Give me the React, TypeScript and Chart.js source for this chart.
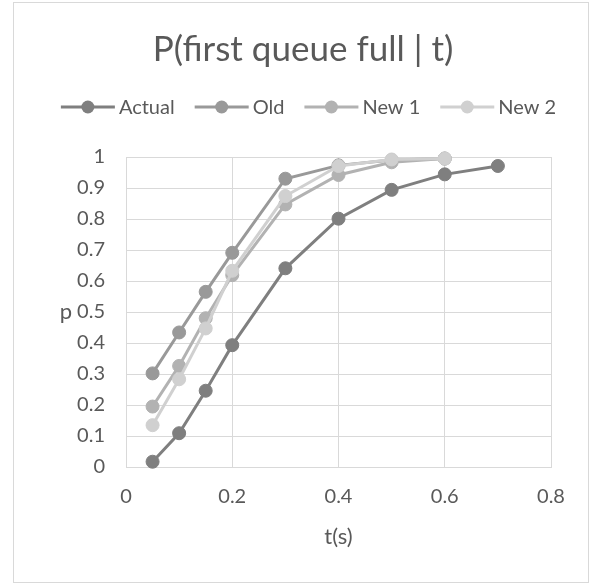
import React, { useEffect, useRef } from 'react';
import { Chart, registerables } from 'chart.js';

Chart.register(...registerables);

const TITLE = 'P(first queue full | t)';
const X_TITLE = 't(s)';
const Y_TITLE = 'p';

const SERIES_NAMES = ['Actual', 'Old', 'New 1', 'New 2'];
const SERIES_COLORS = ['#7f7f7f', '#999999', '#b2b2b2', '#d0d0d0'];

const T_ACTUAL = [0.05, 0.1, 0.15, 0.2, 0.3, 0.4, 0.5, 0.6, 0.7];
const P_ACTUAL = [0.017, 0.109, 0.246, 0.393, 0.641, 0.801, 0.894, 0.944, 0.971];

const T_MODEL = [0.05, 0.1, 0.15, 0.2, 0.3, 0.4, 0.5, 0.6];
const P_OLD = [0.302, 0.434, 0.565, 0.691, 0.93, 0.973, 0.99, 0.995];
const P_NEW1 = [0.195, 0.326, 0.48, 0.619, 0.847, 0.942, 0.983, 0.995];
const P_NEW2 = [0.135, 0.283, 0.447, 0.633, 0.874, 0.971, 0.992, 0.995];

const X_TICKS = [0, 0.2, 0.4, 0.6, 0.8];
const Y_TICKS = [0, 0.1, 0.2, 0.3, 0.4, 0.5, 0.6, 0.7, 0.8, 0.9, 1];

const FONT = 'Lato, "Noto Sans", sans-serif';
const TEXT_COLOR = '#595959';
const GRID_COLOR = '#d9d9d9';

const toPoints = (xs: number[], ys: number[]) => xs.map((x, i) => ({ x, y: ys[i] }));

const decorPlugin = {
  id: 'decor',
  beforeDraw(chart: any) {
    const ctx = chart.ctx;
    ctx.save();
    ctx.fillStyle = '#ffffff';
    ctx.fillRect(0, 0, chart.width, chart.height);
    ctx.strokeStyle = GRID_COLOR;
    ctx.lineWidth = 1;
    ctx.strokeRect(13.5, 2.5, 575, 580);
    ctx.restore();
  },
  afterDraw(chart: any) {
    const ctx = chart.ctx;
    const a = chart.chartArea;
    ctx.save();
    ctx.fillStyle = TEXT_COLOR;
    ctx.textBaseline = 'middle';
    ctx.textAlign = 'center';
    ctx.font = `35px ${FONT}`;
    ctx.fillText(TITLE, 303, 50);

    // legend
    ctx.font = `20px ${FONT}`;
    const ds = chart.data.datasets;
    const lineLen = 54;
    const gapText = 4;
    const gapItem = 20;
    const widths = ds.map((d: any) => ctx.measureText(d.label).width);
    const total = widths.reduce((s: number, w: number) => s + lineLen + gapText + w, 0) + gapItem * (ds.length - 1);
    let x = 308.5 - total / 2;
    const ly = 107;
    ds.forEach((d: any, i: number) => {
      ctx.strokeStyle = d.borderColor;
      ctx.lineWidth = 3;
      ctx.beginPath();
      ctx.moveTo(x, ly);
      ctx.lineTo(x + lineLen, ly);
      ctx.stroke();
      ctx.fillStyle = d.borderColor;
      ctx.beginPath();
      ctx.arc(x + lineLen / 2, ly, 6.5, 0, Math.PI * 2);
      ctx.fill();
      ctx.fillStyle = TEXT_COLOR;
      ctx.textAlign = 'left';
      ctx.fillText(d.label, x + lineLen + gapText, ly + 1);
      x += lineLen + gapText + widths[i] + gapItem;
    });

    // axis titles
    ctx.font = `22px ${FONT}`;
    ctx.textAlign = 'center';
    ctx.fillText(X_TITLE, (a.left + a.right) / 2, 537);
    ctx.fillText(Y_TITLE, 66, (a.top + a.bottom) / 2);
    ctx.restore();
  },
};

export default function App() {
  const ref = useRef<HTMLCanvasElement | null>(null);

  useEffect(() => {
    if (!ref.current) return;
    const seriesData = [
      toPoints(T_ACTUAL, P_ACTUAL),
      toPoints(T_MODEL, P_OLD),
      toPoints(T_MODEL, P_NEW1),
      toPoints(T_MODEL, P_NEW2),
    ];
    const chart = new Chart(ref.current, {
      type: 'line',
      data: {
        datasets: SERIES_NAMES.map((name, i) => ({
          label: name,
          data: seriesData[i],
          borderColor: SERIES_COLORS[i],
          backgroundColor: SERIES_COLORS[i],
          pointBackgroundColor: SERIES_COLORS[i],
          pointBorderColor: SERIES_COLORS[i],
          borderWidth: 3,
          pointRadius: 6.5,
          pointBorderWidth: 1,
          tension: 0,
          clip: false as any,
          order: SERIES_NAMES.length - i,
        })),
      },
      options: {
        responsive: false,
        animation: false,
        devicePixelRatio: 1,
        layout: { padding: { top: 157, left: 66, right: 47, bottom: 67 } },
        plugins: {
          legend: { display: false },
          title: { display: false },
          tooltip: { enabled: false },
        },
        scales: {
          x: {
            type: 'linear',
            min: 0,
            max: 0.8,
            afterBuildTicks: (s: any) => {
              s.ticks = X_TICKS.map((v) => ({ value: v }));
            },
            afterFit: (s: any) => {
              s.height = 50;
            },
            grid: { color: GRID_COLOR, drawTicks: false, lineWidth: 1 },
            border: { color: GRID_COLOR, width: 1 },
            ticks: {
              color: TEXT_COLOR,
              font: { family: FONT, size: 20 },
              padding: 18,
              maxRotation: 0,
              callback: (v: any) => String(v),
            },
          },
          y: {
            type: 'linear',
            min: 0,
            max: 1,
            afterBuildTicks: (s: any) => {
              s.ticks = Y_TICKS.map((v) => ({ value: v }));
            },
            afterFit: (s: any) => {
              s.width = 60;
            },
            grid: { color: GRID_COLOR, drawTicks: false, lineWidth: 1 },
            border: { color: GRID_COLOR, width: 1 },
            ticks: {
              color: TEXT_COLOR,
              font: { family: FONT, size: 20 },
              padding: 21,
              callback: (v: any) => String(v),
            },
          },
        },
      },
      plugins: [decorPlugin],
    });
    return () => chart.destroy();
  }, []);

  return (
    <div style={{ position: 'fixed', left: 0, top: 0, width: 598, height: 584 }}>
      <canvas ref={ref} width={598} height={584} style={{ display: 'block' }} />
    </div>
  );
}
